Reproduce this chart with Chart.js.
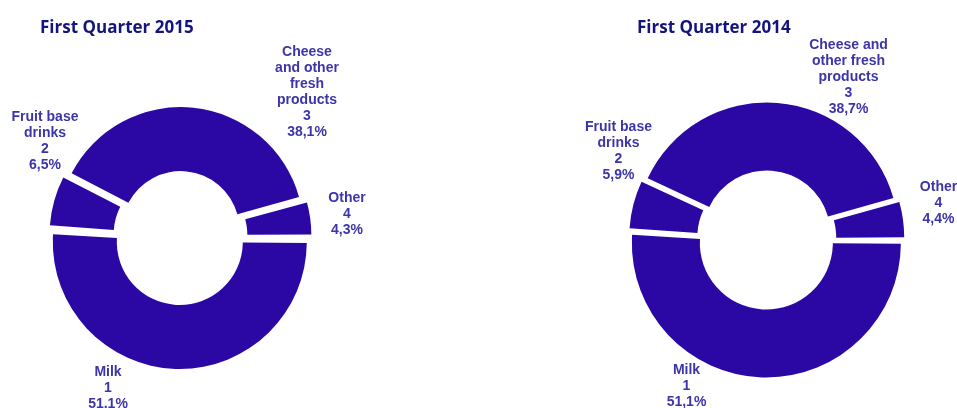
<!DOCTYPE html>
<html>
<head>
<meta charset="utf-8">
<script src="https://cdn.jsdelivr.net/npm/chart.js@4"></script>
<style>
  html, body { margin: 0; padding: 0; background: #ffffff; }
  #wrap { position: relative; width: 957px; height: 408px; overflow: hidden; }
  .pane { position: absolute; top: 0; height: 408px; }
</style>
</head>
<body>
<div id="wrap">
  <div class="pane" style="left:0;width:478px"><canvas id="chart2015" width="478" height="408"></canvas></div>
  <div class="pane" style="left:478px;width:479px"><canvas id="chart2014" width="479" height="408"></canvas></div>
</div>
<script>
// Categories and their rank numbers (shown under each name)
const categories = ['Milk', 'Fruit base drinks', 'Cheese and other fresh products', 'Other'];
const ranks = [1, 2, 3, 4];

// Shares in percent
const shares2015 = [51.1, 6.5, 38.1, 4.3];
const shares2014 = [51.1, 5.9, 38.7, 4.4];

const titles = ['First Quarter 2015', 'First Quarter 2014'];

const FILL = '#2b08a4';
const LABEL_COLOR = '#3b35a8';
const TITLE_COLOR = '#14147f';

// Draws the chart title and the multi-line slice labels (Excel-style "best fit")
const labelPlugin = {
  id: 'sliceLabels',
  afterDatasetsDraw(chart, args, opts) {
    const ctx = chart.ctx;
    const meta = chart.getDatasetMeta(0);
    const values = chart.data.datasets[0].data;

    ctx.save();
    ctx.fillStyle = TITLE_COLOR;
    ctx.font = 'bold 17px "Open Sans"';
    ctx.textAlign = 'left';
    ctx.textBaseline = 'alphabetic';
    ctx.fillText(opts.title, opts.titleX, opts.titleY);

    ctx.font = 'bold 14px "Liberation Sans", Arial';
    ctx.fillStyle = LABEL_COLOR;
    ctx.textAlign = 'center';
    ctx.textBaseline = 'middle';
    const lineH = 16;

    meta.data.forEach((arc, i) => {
      // wrap the category name like the original text boxes
      const words = chart.data.labels[i].split(' ');
      const lines = [];
      let cur = '';
      words.forEach(w => {
        const test = cur ? cur + ' ' + w : w;
        if (cur && ctx.measureText(test).width > opts.wrap) {
          lines.push(cur);
          cur = w;
        } else {
          cur = test;
        }
      });
      lines.push(cur);
      lines.push(String(ranks[i]));
      lines.push(values[i].toFixed(1).replace('.', ',') + '%');

      const [dx, dy] = opts.offsets[i];
      const x = arc.x + dx;
      const top = arc.y + dy - (lines.length - 1) * lineH / 2;
      lines.forEach((ln, k) => ctx.fillText(ln, x, top + k * lineH));
    });
    ctx.restore();
  }
};

function makeChart(canvasId, data, title, layout) {
  // v4 moves an exploded arc by offset/4 and also grows both radii by that amount,
  // so take it back out of the radius and the cutout
  const e = layout.explode;
  return new Chart(document.getElementById(canvasId), {
    type: 'doughnut',
    data: {
      labels: categories,
      datasets: [{
        data: data,
        backgroundColor: FILL,
        borderWidth: 0,
        offset: e * 4,
        hoverOffset: 0
      }]
    },
    options: {
      responsive: false,
      animation: false,
      events: [],
      rotation: 90,
      radius: layout.outer - e,
      cutout: ((layout.inner - e) / (layout.outer - e) * 100) + '%',
      layout: { padding: layout.padding },
      plugins: {
        legend: { display: false },
        tooltip: { enabled: false },
        sliceLabels: {
          title: title,
          titleX: layout.titleX,
          titleY: 33,
          wrap: layout.wrap,
          offsets: layout.offsets
        }
      }
    },
    plugins: [labelPlugin]
  });
}

makeChart('chart2015', shares2015, titles[0], {
  explode: 6,
  outer: 127,
  inner: 63,
  padding: { left: 50, right: 168, top: 106, bottom: 42 },
  titleX: 40,
  wrap: 70,
  offsets: [[-72, 152], [-135, -95], [127, -144], [167, -22]]
});

makeChart('chart2014', shares2014, titles[1], {
  explode: 4.5,
  outer: 134.5,
  inner: 66.5,
  padding: { left: 152, right: 54, top: 102, bottom: 33 },
  titleX: 637 - 478,
  wrap: 85,
  offsets: [[-80, 148], [-148, -87], [82, -161], [172, -35]]
});
</script>
</body>
</html>
